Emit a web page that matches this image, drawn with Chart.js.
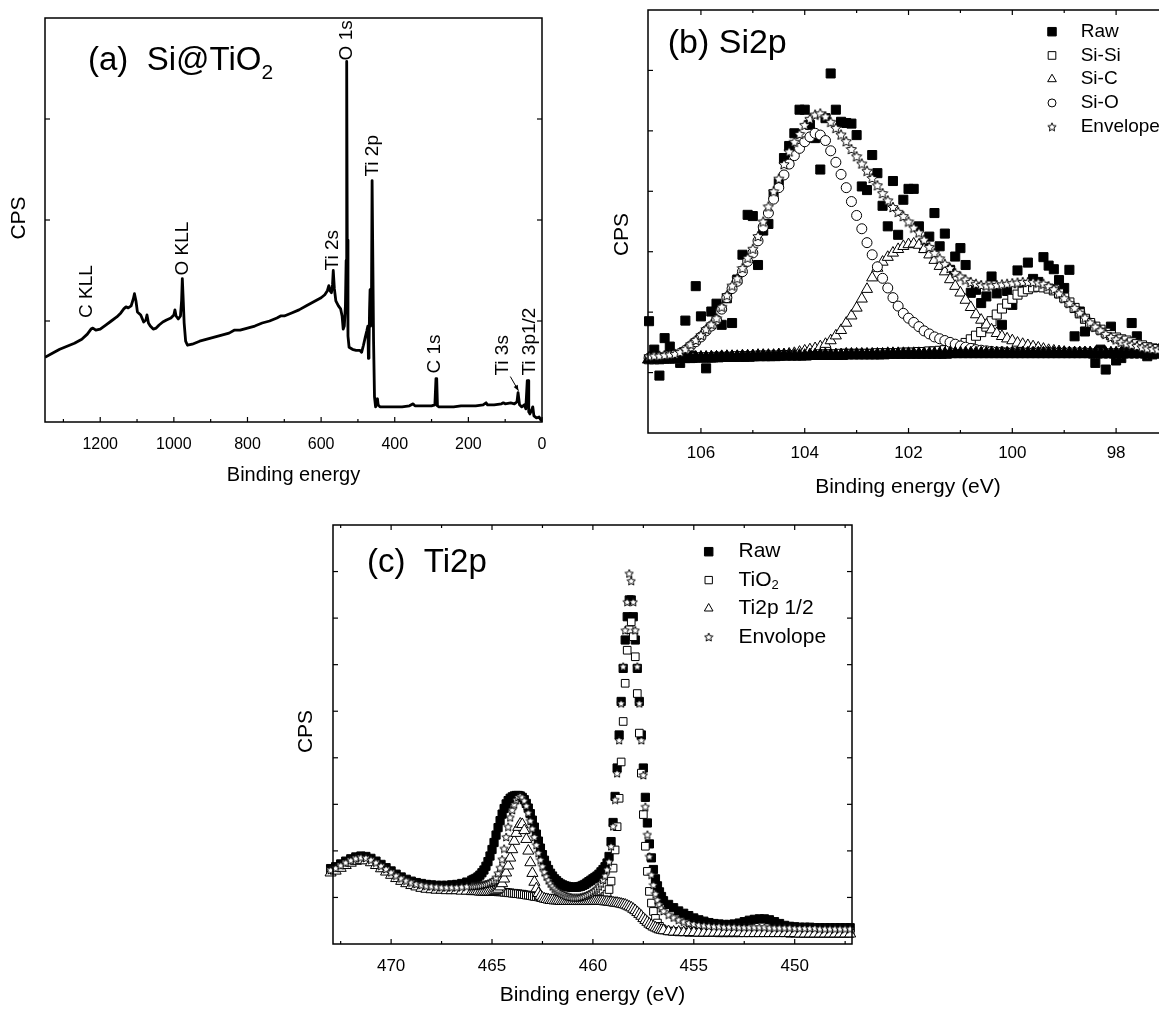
<!DOCTYPE html>
<html>
<head>
<meta charset="utf-8">
<title>XPS spectra of Si@TiO2</title>
<script src="https://cdn.jsdelivr.net/npm/chart.js@4.4.1/dist/chart.umd.min.js"></script>
<style>
  html, body { margin: 0; padding: 0; background: #fff; overflow: hidden; width: 1159px; height: 1012px; }
  canvas { position: absolute; }
</style>
</head>
<body>
<canvas id="survey" width="560" height="500" style="left:0px;top:0px"></canvas>
<canvas id="si2p" width="600" height="510" style="left:600px;top:0px"></canvas>
<canvas id="ti2p" width="600" height="512" style="left:280px;top:500px"></canvas>
<script>
// ---------- (a) survey spectrum ----------
const surveyEnergy = [
  1350,1330,1310,1290,1270,1250,1235,1225,1220,1212,
  1200,1185,1170,1155,1144,1136,1130,1124,1116,1110,
  1107,1103,1099,1090,1082,1076,1073,1069,1064,1056,
  1048,1040,1030,1020,1008,1000,997,994,988,982,
  979,977,975,972,968,963,950,930,910,890,
  870,850,835,820,800,780,760,740,720,710,
  700,680,660,640,620,600,590,583,579,576,
  572,569,567,564,560,553,547,543,540,537,
  534,532,530.5,529,527,524,515,505,495,490,
  485,480,476,473,471.5,470,468.5,467,465.5,463.5,
  461.5,459.5,457.5,455,452,449,447,445,440,420,
  400,380,360,350,345,320,300,291,288,286,
  284,280,260,240,220,200,180,160,152,148,
  130,110,105,100,85,75,68,65,63,61,
  55,48,44,40,38,36,33,28,25,22,
  15,8,3,0
];
const surveyCps = [
  0.64,0.68,0.72,0.75,0.78,0.82,0.87,0.92,0.93,0.91,
  0.92,0.96,1.00,1.04,1.08,1.12,1.14,1.13,1.15,1.22,
  1.27,1.20,1.09,1.06,0.99,1.01,1.06,0.98,0.95,0.92,
  0.93,0.96,0.99,1.01,1.03,1.06,1.11,1.05,1.02,1.05,
  1.20,1.42,1.25,0.98,0.80,0.76,0.77,0.80,0.82,0.84,
  0.86,0.88,0.91,0.91,0.93,0.95,0.98,1.00,1.03,1.05,
  1.05,1.08,1.11,1.15,1.19,1.23,1.26,1.30,1.35,1.30,
  1.28,1.36,1.50,1.32,1.20,1.15,1.12,1.05,0.92,0.95,
  1.15,1.60,3.57,1.80,0.85,0.74,0.72,0.71,0.71,0.69,
  0.76,0.84,0.90,0.95,0.63,0.72,1.10,1.31,0.95,1.00,
  2.39,2.39,0.80,0.25,0.15,0.17,0.23,0.17,0.15,0.15,
  0.15,0.15,0.16,0.18,0.16,0.16,0.16,0.17,0.43,0.43,
  0.16,0.15,0.15,0.15,0.16,0.16,0.16,0.17,0.19,0.17,
  0.17,0.18,0.19,0.18,0.19,0.18,0.20,0.29,0.29,0.17,
  0.15,0.17,0.13,0.41,0.41,0.10,0.08,0.12,0.15,0.06,
  0.04,0.05,0.02,0.01
];
const surveyTicks = [1200, 1000, 800, 600, 400, 200, 0];
const surveyMinorTicks = [1300, 1100, 900, 700, 500, 300, 100];
const peakNames = ['C KLL', 'O KLL', 'Ti 2s', 'O 1s', 'Ti 2p', 'C 1s', 'Ti 3s', 'Ti 3p1/2'];

// ---------- (b) Si 2p ----------
const si2pEnergy = [
  107.0,106.9,106.8,106.7,106.6,106.5,106.4,106.3,106.2,106.1,
  106.0,105.9,105.8,105.7,105.6,105.5,105.4,105.3,105.2,105.1,
  105.0,104.9,104.8,104.7,104.6,104.5,104.4,104.3,104.2,104.1,
  104.0,103.9,103.8,103.7,103.6,103.5,103.4,103.3,103.2,103.1,
  103.0,102.9,102.8,102.7,102.6,102.5,102.4,102.3,102.2,102.1,
  102.0,101.9,101.8,101.7,101.6,101.5,101.4,101.3,101.2,101.1,
  101.0,100.9,100.8,100.7,100.6,100.5,100.4,100.3,100.2,100.1,
  100.0,99.9,99.8,99.7,99.6,99.5,99.4,99.3,99.2,99.1,
  99.0,98.9,98.8,98.7,98.6,98.5,98.4,98.3,98.2,98.1,
  98.0,97.9,97.8,97.7,97.6,97.5,97.4,97.3,97.2,97.1,
  97.0
];
const si2pRaw = [
  1.85,1.38,0.95,1.57,1.43,1.25,1.16,1.86,1.28,2.43,
  1.93,1.07,2.01,2.14,1.79,2.23,1.82,2.54,2.95,3.61,
  3.59,2.78,3.35,3.46,3.95,4.13,4.55,4.75,4.96,5.35,
  5.35,5.10,4.88,4.36,5.21,5.95,5.35,5.15,5.13,5.12,
  4.93,4.08,4.02,4.60,4.30,3.76,3.42,4.17,3.28,3.86,
  4.04,4.04,3.42,3.06,3.25,3.64,3.09,3.30,2.70,2.92,
  3.06,2.78,2.32,2.37,2.15,2.26,2.59,2.31,1.79,2.35,
  2.12,2.69,2.45,2.82,2.55,2.50,2.91,2.77,2.71,2.53,
  2.40,2.70,1.60,2.01,1.68,1.79,1.16,1.38,1.05,1.76,
  1.20,1.24,1.35,1.82,1.60,1.35,1.27,1.30,1.32,1.40,
  1.30
];
const si2pSiSi = [
  1.22,1.22,1.22,1.23,1.23,1.23,1.24,1.24,1.24,1.25,
  1.25,1.25,1.25,1.26,1.26,1.26,1.26,1.27,1.27,1.27,
  1.27,1.28,1.28,1.28,1.28,1.28,1.29,1.29,1.29,1.29,
  1.29,1.30,1.30,1.30,1.30,1.30,1.30,1.31,1.31,1.31,
  1.31,1.31,1.31,1.31,1.32,1.32,1.32,1.32,1.32,1.33,
  1.33,1.33,1.34,1.34,1.35,1.35,1.36,1.37,1.38,1.40,
  1.44,1.49,1.55,1.61,1.67,1.76,1.85,1.96,2.06,2.14,
  2.22,2.29,2.34,2.38,2.41,2.42,2.41,2.39,2.36,2.31,
  2.24,2.16,2.07,1.98,1.89,1.82,1.76,1.71,1.66,1.62,
  1.58,1.55,1.53,1.50,1.47,1.45,1.42,1.40,1.39,1.38,
  1.37
];
const si2pSiC = [
  1.22,1.22,1.22,1.23,1.23,1.23,1.24,1.24,1.24,1.25,
  1.25,1.25,1.26,1.26,1.26,1.27,1.27,1.27,1.28,1.28,
  1.28,1.29,1.29,1.29,1.29,1.30,1.30,1.31,1.32,1.34,
  1.36,1.38,1.40,1.43,1.47,1.53,1.61,1.70,1.82,1.94,
  2.07,2.22,2.38,2.57,2.73,2.83,2.91,2.98,3.04,3.09,
  3.12,3.13,3.11,3.04,2.95,2.86,2.76,2.67,2.54,2.43,
  2.32,2.20,2.08,1.96,1.87,1.79,1.71,1.65,1.60,1.56,
  1.53,1.49,1.47,1.45,1.43,1.41,1.39,1.37,1.36,1.35,
  1.34,1.33,1.33,1.33,1.33,1.33,1.32,1.32,1.32,1.32,
  1.32,1.32,1.32,1.32,1.32,1.32,1.32,1.32,1.32,1.32,
  1.32
];
const si2pSiO = [
  1.24,1.25,1.25,1.26,1.27,1.29,1.32,1.37,1.44,1.51,
  1.59,1.69,1.77,1.87,2.05,2.24,2.39,2.51,2.67,2.84,
  2.98,3.18,3.41,3.64,3.87,4.06,4.27,4.45,4.59,4.71,
  4.82,4.90,4.96,4.93,4.84,4.67,4.48,4.28,4.06,3.83,
  3.60,3.38,3.15,2.95,2.75,2.56,2.40,2.24,2.10,1.98,
  1.90,1.83,1.76,1.69,1.64,1.59,1.56,1.53,1.50,1.47,
  1.44,1.42,1.40,1.38,1.37,1.36,1.35,1.34,1.34,1.33,
  1.33,1.33,1.33,1.33,1.33,1.33,1.33,1.33,1.33,1.33,
  1.33,1.33,1.33,1.33,1.33,1.32,1.32,1.32,1.32,1.32,
  1.32,1.32,1.32,1.32,1.32,1.32,1.32,1.32,1.32,1.32,
  1.32
];
const si2pEnvelope = [
  1.27,1.28,1.28,1.29,1.30,1.31,1.34,1.39,1.47,1.54,
  1.62,1.72,1.80,1.90,2.09,2.28,2.44,2.56,2.73,2.90,
  3.05,3.26,3.50,3.75,4.00,4.21,4.45,4.66,4.82,4.95,
  5.10,5.20,5.27,5.29,5.24,5.15,5.05,4.94,4.83,4.70,
  4.58,4.46,4.34,4.22,4.10,3.97,3.85,3.74,3.66,3.59,
  3.50,3.40,3.32,3.20,3.08,2.98,2.89,2.80,2.73,2.65,
  2.59,2.54,2.50,2.47,2.45,2.44,2.44,2.45,2.46,2.47,
  2.48,2.49,2.50,2.50,2.50,2.49,2.47,2.43,2.38,2.31,
  2.23,2.15,2.07,1.99,1.91,1.83,1.76,1.70,1.64,1.59,
  1.55,1.51,1.48,1.46,1.44,1.42,1.40,1.39,1.38,1.37,
  1.36
];
// fitted background under the Si 2p components
const si2pBackground = [
  1.22,1.22,1.22,1.22,1.23,1.23,1.23,1.23,1.23,1.24,
  1.24,1.24,1.24,1.24,1.25,1.25,1.25,1.25,1.25,1.25,
  1.26,1.26,1.26,1.26,1.26,1.27,1.27,1.27,1.27,1.27,
  1.27,1.28,1.28,1.28,1.28,1.28,1.28,1.28,1.29,1.29,
  1.29,1.29,1.29,1.29,1.29,1.29,1.30,1.30,1.30,1.30,
  1.30,1.30,1.30,1.30,1.30,1.30,1.30,1.30,1.31,1.31,
  1.31,1.31,1.31,1.31,1.31,1.31,1.31,1.31,1.31,1.31,
  1.31,1.31,1.31,1.31,1.31,1.31,1.31,1.31,1.31,1.31,
  1.31,1.31,1.31,1.31,1.31,1.31,1.31,1.31,1.31,1.31,
  1.31,1.31,1.31,1.31,1.31,1.31,1.31,1.31,1.31,1.31,
  1.31
];
const si2pTicks = [106, 104, 102, 100, 98];
const si2pMinorTicks = [105, 103, 101, 99, 97];

// ---------- (c) Ti 2p ----------
const ti2pEnergyHigh = [
  473.0,472.75,472.5,472.25,472.0,471.75,471.5,471.25,471.0,470.75,
  470.5,470.25,470.0,469.75,469.5,469.25,469.0,468.75,468.5,468.25,
  468.0,467.75,467.5,467.25,467.0,466.75,466.5,466.25
];
const ti2pEnergyMid = [
  466.0,465.9,465.8,465.7,465.6,465.5,465.4,465.3,465.2,465.1,
  465.0,464.9,464.8,464.7,464.6,464.5,464.4,464.3,464.2,464.1,
  464.0,463.9,463.8,463.7,463.6,463.5,463.4,463.3,463.2,463.1,
  463.0,462.9,462.8,462.7,462.6,462.5,462.4,462.3,462.2,462.1,
  462.0,461.9,461.8,461.7,461.6,461.5,461.4,461.3,461.2,461.1,
  461.0,460.9,460.8,460.7,460.6,460.5,460.4,460.3,460.2,460.1,
  460.0,459.9,459.8,459.7,459.6,459.5,459.4,459.3,459.2,459.1,
  459.0,458.9,458.8,458.7,458.6,458.5,458.4,458.3,458.2,458.1,
  458.0,457.9,457.8,457.7,457.6,457.5,457.4,457.3,457.2,457.1,
  457.0,456.9,456.8,456.7,456.6
];
const ti2pEnergyLow = [
  456.5,456.25,456.0,455.75,455.5,455.25,455.0,454.75,454.5,454.25,
  454.0,453.75,453.5,453.25,453.0,452.75,452.5,452.25,452.0,451.75,
  451.5,451.25,451.0,450.75,450.5,450.25,450.0,449.75,449.5,449.25,
  449.0,448.75,448.5,448.25,448.0,447.75,447.5,447.25
];
const ti2pRaw = [
  1.62,1.66,1.72,1.78,1.83,1.87,1.89,1.88,1.84,1.78,1.71,1.64,1.57,1.50,1.44,1.39,1.35,1.32,1.30,1.28,
  1.27,1.26,1.26,1.26,1.27,1.28,1.30,1.33,
  1.37,1.39,1.41,1.44,1.48,1.53,1.59,1.67,1.77,1.89,
  2.03,2.18,2.34,2.50,2.65,2.79,2.91,3.01,3.08,3.13,
  3.16,3.18,3.19,3.19,3.18,3.15,3.10,3.02,2.92,2.80,
  2.66,2.51,2.36,2.21,2.06,1.92,1.80,1.69,1.60,1.52,
  1.46,1.40,1.36,1.32,1.29,1.27,1.25,1.24,1.23,1.22,
  1.22,1.22,1.22,1.23,1.24,1.26,1.28,1.31,1.34,1.37,
  1.40,1.43,1.46,1.50,1.55,1.60,1.66,1.74,1.88,2.20,
  2.61,3.17,3.78,4.49,5.21,5.92,6.53,7.03,7.39,7.39,
  7.03,6.53,5.92,5.21,4.49,3.78,3.15,2.60,2.15,1.85,
  1.60,1.40,1.25,1.12,1.02,
  0.93,0.85,0.78,0.71,0.66,0.61,0.56,0.52,0.49,0.46,
  0.44,0.43,0.42,0.42,0.43,0.45,0.48,0.51,0.53,0.54,
  0.54,0.52,0.48,0.44,0.40,0.38,0.37,0.36,0.36,0.36,
  0.35,0.35,0.35,0.35,0.35,0.35,0.35,0.35
];
const ti2pTiO2 = [
  1.56,1.60,1.66,1.72,1.77,1.81,1.83,1.82,1.78,1.72,1.65,1.58,1.51,1.44,1.38,1.33,1.29,1.26,1.23,1.21,
  1.20,1.19,1.19,1.18,1.18,1.18,1.17,1.17,
  1.16,1.16,1.16,1.15,1.15,1.15,1.15,1.14,1.14,1.14,
  1.13,1.13,1.13,1.12,1.12,1.12,1.11,1.11,1.10,1.10,
  1.09,1.09,1.08,1.08,1.07,1.07,1.06,1.05,1.05,1.04,
  1.03,1.02,1.02,1.01,1.00,1.00,0.99,0.98,0.98,0.97,
  0.97,0.96,0.96,0.95,0.95,0.95,0.94,0.94,0.94,0.94,
  0.93,0.93,0.93,0.93,0.93,0.93,0.93,0.93,0.93,0.93,
  0.94,0.94,0.95,0.96,0.97,0.99,1.02,1.07,1.17,1.35,
  1.63,2.02,2.52,3.13,3.91,4.78,5.60,6.31,6.75,6.92,
  6.60,6.17,5.38,4.53,3.67,2.78,2.10,1.56,1.13,0.88,
  0.70,0.55,0.45,0.38,0.33,
  0.30,0.28,0.27,0.26,0.26,0.25,0.25,0.25,0.25,0.25,
  0.25,0.24,0.24,0.24,0.24,0.24,0.24,0.24,0.24,0.24,
  0.24,0.24,0.24,0.24,0.24,0.23,0.23,0.23,0.23,0.23,
  0.23,0.23,0.23,0.23,0.23,0.23,0.23,0.23
];
const ti2pHalf = [
  1.53,1.57,1.63,1.69,1.74,1.78,1.80,1.79,1.75,1.69,1.62,1.55,1.48,1.41,1.35,1.30,1.26,1.23,1.20,1.18,
  1.17,1.16,1.16,1.15,1.15,1.15,1.14,1.14,
  1.13,1.13,1.13,1.13,1.12,1.12,1.12,1.12,1.12,1.12,
  1.12,1.13,1.15,1.18,1.23,1.30,1.40,1.53,1.68,1.85,
  2.03,2.21,2.38,2.51,2.58,2.57,2.44,2.25,2.00,1.75,
  1.52,1.33,1.19,1.09,1.03,0.99,0.97,0.96,0.95,0.94,
  0.94,0.93,0.93,0.93,0.92,0.92,0.92,0.92,0.92,0.92,
  0.92,0.92,0.92,0.92,0.92,0.92,0.92,0.92,0.92,0.92,
  0.92,0.92,0.92,0.92,0.92,0.92,0.91,0.91,0.90,0.90,
  0.89,0.88,0.88,0.87,0.86,0.85,0.84,0.82,0.80,0.78,
  0.75,0.72,0.68,0.64,0.60,0.55,0.51,0.47,0.43,0.40,
  0.37,0.35,0.33,0.31,0.30,
  0.29,0.27,0.26,0.26,0.25,0.25,0.25,0.24,0.24,0.24,
  0.24,0.24,0.24,0.24,0.24,0.24,0.23,0.23,0.23,0.23,
  0.23,0.23,0.23,0.23,0.23,0.23,0.23,0.22,0.22,0.22,
  0.22,0.22,0.22,0.22,0.22,0.22,0.22,0.22
];
const ti2pEnvelope = [
  1.59,1.63,1.69,1.75,1.80,1.84,1.86,1.85,1.81,1.75,1.68,1.61,1.54,1.47,1.41,1.36,1.32,1.29,1.27,1.25,
  1.24,1.23,1.22,1.22,1.22,1.22,1.23,1.24,
  1.25,1.25,1.25,1.26,1.26,1.27,1.28,1.29,1.30,1.32,
  1.34,1.37,1.43,1.52,1.64,1.82,2.05,2.30,2.52,2.72,
  2.88,3.00,3.10,3.16,3.18,3.15,3.08,2.97,2.82,2.65,
  2.48,2.30,2.13,1.96,1.81,1.67,1.55,1.45,1.37,1.30,
  1.24,1.19,1.15,1.12,1.09,1.07,1.05,1.03,1.02,1.01,
  1.00,1.00,1.00,1.00,1.01,1.02,1.03,1.05,1.07,1.09,
  1.12,1.15,1.19,1.24,1.30,1.38,1.47,1.60,1.77,2.10,
  2.53,3.10,3.67,4.38,5.17,5.96,6.74,7.35,7.96,7.80,
  7.35,6.74,5.96,5.17,4.38,3.63,2.95,2.35,1.88,1.49,
  1.27,1.08,0.95,0.85,0.77,
  0.71,0.63,0.57,0.52,0.48,0.45,0.43,0.41,0.40,0.39,
  0.38,0.38,0.37,0.37,0.37,0.36,0.36,0.36,0.36,0.36,
  0.36,0.35,0.35,0.35,0.35,0.35,0.34,0.34,0.34,0.34,
  0.34,0.33,0.33,0.33,0.33,0.33,0.33,0.33
];
const ti2pTicks = [470, 465, 460, 455, 450];
const ti2pMinorTicks = [472.5, 467.5, 462.5, 457.5, 452.5, 447.5];

// ---------- drawing helpers ----------
const FONT = '"Liberation Sans", Arial, Helvetica, sans-serif';
const ti2pEnergy = [...ti2pEnergyHigh, ...ti2pEnergyMid, ...ti2pEnergyLow];
const pairs = (xs, ys) => xs.map((x, i) => ({ x, y: ys[i] }));

function makeStar(size, fill) {
  const c = document.createElement('canvas');
  c.width = size; c.height = size;
  const g = c.getContext('2d');
  const cx = size / 2, cy = size / 2 + size * 0.05;
  const R = size / 2 - 0.6, r = R * 0.47;
  g.beginPath();
  for (let i = 0; i < 10; i++) {
    const ang = -Math.PI / 2 + i * Math.PI / 5;
    const rad = i % 2 ? r : R;
    g.lineTo(cx + rad * Math.cos(ang), cy + rad * Math.sin(ang));
  }
  g.closePath();
  g.fillStyle = fill; g.fill();
  g.lineWidth = 1; g.strokeStyle = '#000'; g.stroke();
  return c;
}
const starB = makeStar(12, '#fff');
const starC = makeStar(10, '#fff');
const starKey = makeStar(10, '#fff');

function drawMarker(ctx, kind, x, y, r, filled) {
  ctx.save();
  ctx.lineWidth = 1;
  ctx.strokeStyle = '#000';
  ctx.fillStyle = filled ? '#000' : '#fff';
  ctx.beginPath();
  if (kind === 'rect') {
    const h = Math.SQRT1_2 * r;
    ctx.rect(x - h, y - h, 2 * h, 2 * h);
  } else if (kind === 'triangle') {
    for (let k = 0; k < 3; k++) {
      const a = k * 2 * Math.PI / 3;
      ctx.lineTo(x + Math.sin(a) * r, y - Math.cos(a) * r);
    }
    ctx.closePath();
  } else if (kind === 'circle') {
    ctx.arc(x, y, r, 0, 2 * Math.PI);
  } else {
    ctx.drawImage(kind, x - kind.width / 2, y - kind.height / 2);
    ctx.restore();
    return;
  }
  ctx.fill(); ctx.stroke();
  ctx.restore();
}

// text with optional subscripts: parts are strings or {sub: '2'}
function drawRich(ctx, parts, x, y, size) {
  let cx = x;
  for (const p of parts) {
    const sub = typeof p === 'object';
    const t = sub ? p.sub : p;
    const fs = sub ? Math.round(size * 0.64) : size;
    ctx.font = fs + 'px ' + FONT;
    ctx.fillText(t, cx, sub ? y + size * 0.27 : y);
    cx += ctx.measureText(t).width;
  }
}

// frame, inward ticks, tick labels, axis titles, panel title, key and peak labels
const decorPlugin = {
  id: 'decor',
  afterDatasetsDraw(chart, _args, o) {
    const { ctx, chartArea: a } = chart;
    const xs = chart.scales.x, ys = chart.scales.y;
    ctx.save();
    ctx.strokeStyle = '#000';
    ctx.fillStyle = '#000';
    const seg = (x0, y0, x1, y1) => { ctx.beginPath(); ctx.moveTo(x0, y0); ctx.lineTo(x1, y1); ctx.stroke(); };
    ctx.lineWidth = 1.2;
    o.xMajor.forEach(v => {
      const p = xs.getPixelForValue(v);
      seg(p, a.bottom, p, a.bottom - o.majorLen);
      if (o.topTicks) seg(p, a.top, p, a.top + o.majorLen);
    });
    o.xMinor.forEach(v => {
      const p = xs.getPixelForValue(v);
      seg(p, a.bottom, p, a.bottom - o.minorLen);
      if (o.topTicks) seg(p, a.top, p, a.top + o.minorLen);
    });
    o.yTicks.forEach(v => {
      const p = ys.getPixelForValue(v);
      seg(a.left, p, a.left + o.majorLen, p);
      if (o.rightTicks) seg(a.right, p, a.right - o.majorLen, p);
    });
    ctx.lineWidth = o.frameWidth;
    ctx.strokeRect(a.left, a.top, a.right - a.left, a.bottom - a.top);

    ctx.textAlign = 'center';
    ctx.textBaseline = 'middle';
    ctx.font = o.tickSize + 'px ' + FONT;
    o.xMajor.forEach(v => ctx.fillText(String(v), xs.getPixelForValue(v), a.bottom + o.tickDy));

    ctx.font = o.xTitle.size + 'px ' + FONT;
    ctx.fillText(o.xTitle.text, (a.left + a.right) / 2, a.bottom + o.xTitle.dy);

    ctx.save();
    ctx.translate(a.left + o.yTitle.dx, (a.top + a.bottom) / 2 + o.yTitle.dy);
    ctx.rotate(-Math.PI / 2);
    ctx.font = o.yTitle.size + 'px ' + FONT;
    ctx.fillText(o.yTitle.text, 0, 0);
    ctx.restore();

    ctx.textAlign = 'left';
    ctx.textBaseline = 'alphabetic';
    drawRich(ctx, o.title.parts, a.left + o.title.dx, a.top + o.title.dy, o.title.size);

    if (o.key) {
      const k = o.key;
      k.items.forEach((it, i) => {
        const yy = a.top + k.dy + i * k.step;
        drawMarker(ctx, it.kind, a.left + k.markerDx, yy, it.r, it.filled);
        ctx.fillStyle = '#000';
        ctx.textBaseline = 'middle';
        drawRich(ctx, it.parts, a.left + k.textDx, yy, k.size);
      });
    }

    if (o.peaks) {
      ctx.font = o.peaks.size + 'px ' + FONT;
      ctx.textAlign = 'left';
      ctx.textBaseline = 'middle';
      o.peaks.items.forEach(pk => {
        ctx.save();
        ctx.translate(xs.getPixelForValue(pk.e), ys.getPixelForValue(pk.c));
        ctx.rotate(-Math.PI / 2);
        ctx.fillText(pk.text, 0, 0);
        ctx.restore();
      });
      const ar = o.peaks.arrow;
      const x0 = xs.getPixelForValue(ar.from[0]), y0 = ys.getPixelForValue(ar.from[1]);
      const x1 = xs.getPixelForValue(ar.to[0]), y1 = ys.getPixelForValue(ar.to[1]);
      ctx.lineWidth = 1;
      seg(x0, y0, x1, y1);
      const ang = Math.atan2(y1 - y0, x1 - x0);
      ctx.beginPath();
      ctx.moveTo(x1, y1);
      ctx.lineTo(x1 - 6 * Math.cos(ang - 0.4), y1 - 6 * Math.sin(ang - 0.4));
      ctx.lineTo(x1 - 6 * Math.cos(ang + 0.4), y1 - 6 * Math.sin(ang + 0.4));
      ctx.closePath();
      ctx.fill();
    }
    ctx.restore();
  }
};

function baseScales(xMin, xMax, yMax, yWidth, xHeight) {
  return {
    x: {
      type: 'linear', reverse: true, min: xMin, max: xMax,
      ticks: { display: false }, grid: { display: false, drawTicks: false }, border: { display: false },
      afterFit: s => { s.height = xHeight; }
    },
    y: {
      type: 'linear', min: 0, max: yMax,
      ticks: { display: false }, grid: { display: false, drawTicks: false }, border: { display: false },
      afterFit: s => { s.width = yWidth; }
    }
  };
}
const common = {
  responsive: false, animation: false, devicePixelRatio: 1, events: [],
};

function markerSet(label, data, style, radius, filled, order) {
  return {
    label, data, order, showLine: false, clip: false,
    pointStyle: style, pointRadius: radius,
    pointBackgroundColor: filled ? '#000' : '#fff',
    pointBorderColor: '#000', pointBorderWidth: 1
  };
}

// ---------- (a) ----------
new Chart(document.getElementById('survey'), {
  type: 'scatter',
  data: {
    datasets: [{
      label: 'Si@TiO2 survey',
      data: pairs(surveyEnergy, surveyCps),
      showLine: true, pointRadius: 0, borderColor: '#000', borderWidth: 2.8,
      borderJoinStyle: 'round', tension: 0
    }]
  },
  options: {
    ...common,
    layout: { padding: { left: 0, top: 18, right: 18, bottom: 0 } },
    scales: baseScales(0, 1350, 4, 45, 78),
    plugins: {
      legend: { display: false }, tooltip: { enabled: false },
      decor: {
        frameWidth: 1.5, majorLen: 5, minorLen: 3, topTicks: false, rightTicks: true,
        xMajor: surveyTicks, xMinor: surveyMinorTicks, yTicks: [1, 2, 3],
        tickSize: 16, tickDy: 23,
        xTitle: { text: 'Binding energy', size: 20, dy: 53 },
        yTitle: { text: 'CPS', size: 21, dx: -26, dy: -2 },
        title: { parts: ['(a)  Si@TiO', { sub: '2' }], dx: 43, dy: 52, size: 33 },
        peaks: {
          size: 19,
          items: [
            { text: peakNames[0], e: 1236, c: 1.03 },
            { text: peakNames[1], e: 976, c: 1.45 },
            { text: peakNames[2], e: 569, c: 1.50 },
            { text: peakNames[3], e: 529, c: 3.58 },
            { text: peakNames[4], e: 460, c: 2.43 },
            { text: peakNames[5], e: 290, c: 0.48 },
            { text: peakNames[6], e: 107, c: 0.46 },
            { text: peakNames[7], e: 34, c: 0.46 }
          ],
          arrow: { from: [86, 0.45], to: [64, 0.31] }
        }
      }
    }
  },
  plugins: [decorPlugin]
});

// ---------- (b) ----------
new Chart(document.getElementById('si2p'), {
  type: 'scatter',
  data: {
    datasets: [
      markerSet('Raw', pairs(si2pEnergy, si2pRaw), 'rect', 6.4, true, 5),
      markerSet('Si-Si', pairs(si2pEnergy, si2pSiSi), 'rect', 6.4, false, 4),
      markerSet('Si-C', pairs(si2pEnergy, si2pSiC), 'triangle', 6.4, false, 3),
      markerSet('Si-O', pairs(si2pEnergy, si2pSiO), 'circle', 5.0, false, 2),
      markerSet('Background', pairs(si2pEnergy, si2pBackground), 'triangle', 7.6, true, 1),
      markerSet('Envelope', pairs(si2pEnergy, si2pEnvelope), starB, 5, false, 0)
    ]
  },
  options: {
    ...common,
    layout: { padding: { left: 0, top: 10, right: 32, bottom: 0 } },
    scales: baseScales(97.0, 107.02, 7, 48, 77),
    plugins: {
      legend: { display: false }, tooltip: { enabled: false },
      decor: {
        frameWidth: 1.5, majorLen: 5, minorLen: 3, topTicks: true, rightTicks: true,
        xMajor: si2pTicks, xMinor: si2pMinorTicks, yTicks: [1, 2, 3, 4, 5, 6],
        tickSize: 17, tickDy: 20.5,
        xTitle: { text: 'Binding energy (eV)', size: 21, dy: 54 },
        yTitle: { text: 'CPS', size: 21, dx: -26, dy: 13 },
        title: { parts: ['(b) Si2p'], dx: 19.7, dy: 43, size: 34 },
        key: {
          markerDx: 404, textDx: 432.7, dy: 21.7, step: 23.75, size: 19,
          items: [
            { kind: 'rect', r: 6.0, filled: true, parts: ['Raw'] },
            { kind: 'rect', r: 5.4, filled: false, parts: ['Si-Si'] },
            { kind: 'triangle', r: 5.0, filled: false, parts: ['Si-C'] },
            { kind: 'circle', r: 4.0, filled: false, parts: ['Si-O'] },
            { kind: starKey, parts: ['Envelope'] }
          ]
        }
      }
    }
  },
  plugins: [decorPlugin]
});

// ---------- (c) ----------
new Chart(document.getElementById('ti2p'), {
  type: 'scatter',
  data: {
    datasets: [
      markerSet('Raw', pairs(ti2pEnergy, ti2pRaw), 'rect', 5.8, true, 3),
      markerSet('TiO2', pairs(ti2pEnergy, ti2pTiO2), 'rect', 5.4, false, 2),
      markerSet('Ti2p 1/2', pairs(ti2pEnergy, ti2pHalf), 'triangle', 6.4, false, 1),
      markerSet('Envolope', pairs(ti2pEnergy, ti2pEnvelope), starC, 5, false, 0)
    ]
  },
  options: {
    ...common,
    layout: { padding: { left: 0, top: 25, right: 28, bottom: 0 } },
    scales: baseScales(447.16, 472.88, 9, 53, 68),
    plugins: {
      legend: { display: false }, tooltip: { enabled: false },
      decor: {
        frameWidth: 1.5, majorLen: 5, minorLen: 3, topTicks: true, rightTicks: true,
        xMajor: ti2pTicks, xMinor: ti2pMinorTicks, yTicks: [1, 2, 3, 4, 5, 6, 7, 8],
        tickSize: 17, tickDy: 22.5,
        xTitle: { text: 'Binding energy (eV)', size: 21, dy: 51 },
        yTitle: { text: 'CPS', size: 21, dx: -27, dy: -3 },
        title: { parts: ['(c)  Ti2p'], dx: 34, dy: 46.7, size: 33 },
        key: {
          markerDx: 375.7, textDx: 405.5, dy: 26.7, step: 28.4, size: 21,
          items: [
            { kind: 'rect', r: 6.0, filled: true, parts: ['Raw'] },
            { kind: 'rect', r: 5.2, filled: false, parts: ['TiO', { sub: '2' }] },
            { kind: 'triangle', r: 5.0, filled: false, parts: ['Ti2p 1/2'] },
            { kind: starKey, parts: ['Envolope'] }
          ]
        }
      }
    }
  },
  plugins: [decorPlugin]
});
</script>
</body>
</html>
